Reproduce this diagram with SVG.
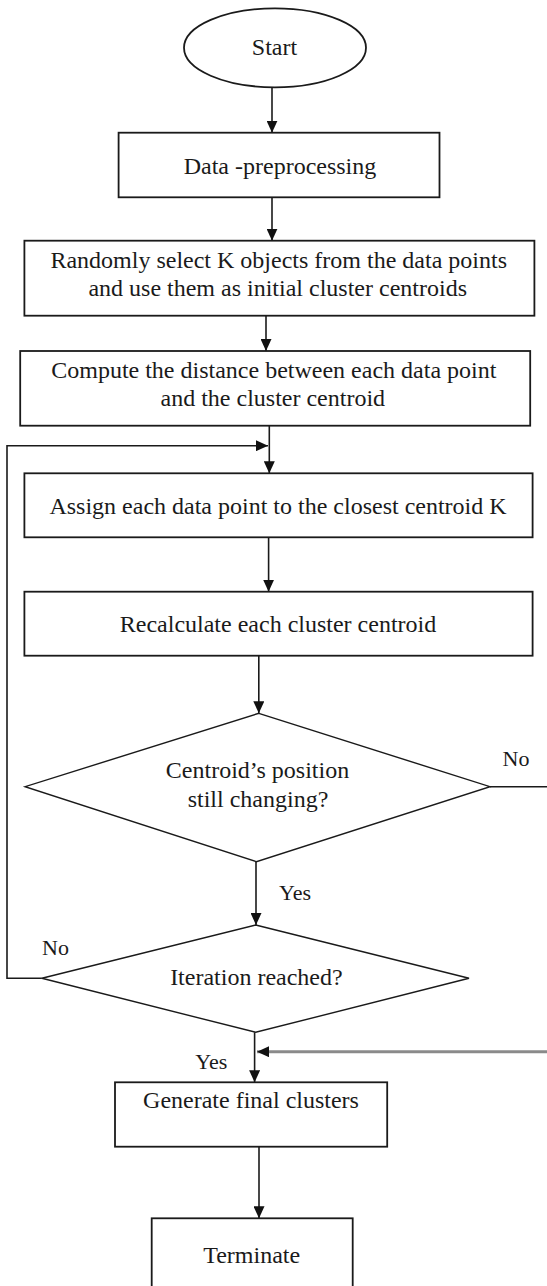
<svg xmlns="http://www.w3.org/2000/svg" width="547" height="1286" viewBox="0 0 547 1286">
  <style>
    .shape { fill: #ffffff; stroke: #1a1a1a; stroke-width: 1.8; }
    .dia { fill: #ffffff; stroke: #1a1a1a; stroke-width: 1.4; }
    .lbl { font-family: "Liberation Serif", "Times New Roman", serif; font-size: 24px; fill: #1a1a1a; text-anchor: middle; }
    .tag { font-family: "Liberation Serif", "Times New Roman", serif; font-size: 22px; fill: #1a1a1a; }
    .edge { fill: none; stroke: #1a1a1a; stroke-width: 1.6; }
    .edge-gray { fill: none; stroke: #8a8a8a; stroke-width: 3; }
  </style>
  <defs>
    <marker id="arrow" markerUnits="userSpaceOnUse" markerWidth="12" markerHeight="11" refX="12" refY="5.5" orient="auto">
      <path d="M0,0 L12,5.5 L0,11 z" fill="#111111"/>
    </marker>
  </defs>
  <rect width="547" height="1286" fill="#ffffff"/>

  <!-- connectors -->
  <g id="connectors">
    <line class="edge" x1="272" y1="87.3" x2="272" y2="132.7" marker-end="url(#arrow)"/>
    <line class="edge" x1="272" y1="197.3" x2="272" y2="240.7" marker-end="url(#arrow)"/>
    <line class="edge" x1="266" y1="315.7" x2="266" y2="351" marker-end="url(#arrow)"/>
    <line class="edge" x1="269.3" y1="425.7" x2="269.3" y2="473.3" marker-end="url(#arrow)"/>
    <line class="edge" x1="268.6" y1="537.3" x2="268.6" y2="591.7" marker-end="url(#arrow)"/>
    <line class="edge" x1="258.8" y1="655.7" x2="258.8" y2="713.3" marker-end="url(#arrow)"/>
    <line class="edge" x1="256" y1="861.7" x2="256" y2="925" marker-end="url(#arrow)"/>
    <line class="edge" x1="254.6" y1="1032.3" x2="254.6" y2="1082.3" marker-end="url(#arrow)"/>
    <line class="edge" x1="259" y1="1146.7" x2="259" y2="1218.3" marker-end="url(#arrow)"/>
    <!-- "No" back to assignment step -->
    <path class="edge" d="M41.9,978.3 H7 V445.7 H268" marker-end="url(#arrow)"/>
    <!-- "No" from centroid test, runs off the right edge -->
    <line class="edge" x1="490" y1="786.7" x2="550" y2="786.7"/>
    <!-- return into final clusters -->
    <line class="edge-gray" x1="550" y1="1051.7" x2="257" y2="1051.7" marker-end="url(#arrow)"/>
  </g>

  <g id="start">
    <ellipse class="shape" cx="275" cy="47.8" rx="91" ry="39.5"/>
    <text class="lbl" x="274.5" y="55">Start</text>
  </g>

  <g id="preprocess">
    <rect class="shape" x="118.6" y="132.7" width="320.9" height="64.6"/>
    <text class="lbl" x="280" y="174">Data -preprocessing</text>
  </g>

  <g id="init-centroids">
    <rect class="shape" x="24.4" y="240.7" width="510" height="75"/>
    <text class="lbl" x="278.7" y="268.3">Randomly select K objects from the data points</text>
    <text class="lbl" x="277.7" y="296">and use them as initial cluster centroids</text>
  </g>

  <g id="distance">
    <rect class="shape" x="20.2" y="351" width="510" height="74.7"/>
    <text class="lbl" x="273.8" y="378.3">Compute the distance between each data point</text>
    <text class="lbl" x="272.8" y="406">and the cluster centroid</text>
  </g>

  <g id="assign">
    <rect class="shape" x="24.4" y="473.3" width="508.2" height="64"/>
    <text class="lbl" x="278" y="514">Assign each data point to the closest centroid K</text>
  </g>

  <g id="recalculate">
    <rect class="shape" x="24.4" y="591.7" width="508.2" height="64"/>
    <text class="lbl" x="278" y="632.3">Recalculate each cluster centroid</text>
  </g>

  <g id="centroid-test">
    <polygon class="dia" points="258.8,713.3 490,786.7 256.4,861.7 25.1,786.7"/>
    <text class="lbl" x="257.5" y="778.3">Centroid’s position</text>
    <text class="lbl" x="258" y="806.7">still changing?</text>
    <text class="tag" x="502.5" y="765.5">No</text>
    <text class="tag" x="279" y="900">Yes</text>
  </g>

  <g id="iteration-test">
    <polygon class="dia" points="255.7,925 469,978.3 255.7,1032.3 41.9,978.3"/>
    <text class="lbl" x="256.4" y="985">Iteration reached?</text>
    <text class="tag" x="42" y="955">No</text>
    <text class="tag" x="195.3" y="1069">Yes</text>
  </g>

  <g id="final-clusters">
    <rect class="shape" x="115" y="1082.3" width="272.2" height="64.4"/>
    <text class="lbl" x="251" y="1108.3">Generate final clusters</text>
  </g>

  <g id="terminate">
    <rect class="shape" x="151.7" y="1218.3" width="201" height="80"/>
    <text class="lbl" x="251.7" y="1263.3">Terminate</text>
  </g>
</svg>
